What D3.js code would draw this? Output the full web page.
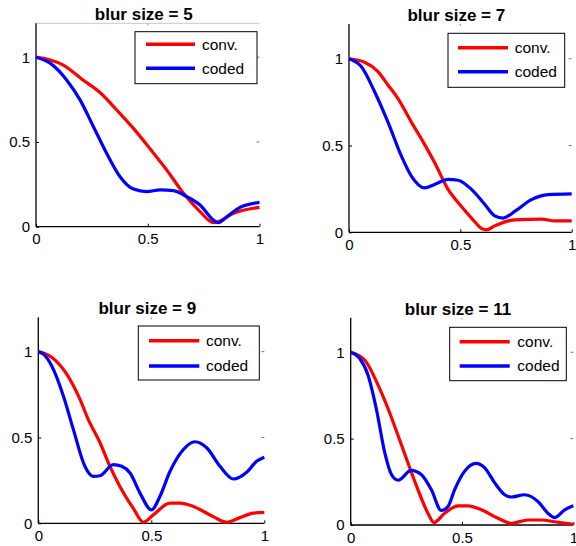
<!DOCTYPE html>
<html><head><meta charset="utf-8">
<script src="https://cdn.jsdelivr.net/npm/d3@7"></script>
<style>body{margin:0;background:#fff}svg{display:block}</style>
</head><body>
<svg id="c" width="576" height="546"></svg>
<script>
const titles = ["blur size = 5","blur size = 7","blur size = 9","blur size = 11"];
const seriesNames = ["conv.","coded"];
const xTicks = [0,0.5,1];
const yTicks = [0,0.5,1];

const conv5x = [0,0.06,0.12,0.21,0.29,0.36,0.436,0.51,0.585,0.66,0.734,0.794,0.816,0.884,1.0];
const conv5y = [1,0.985,0.955,0.866,0.787,0.69,0.58,0.46,0.335,0.197,0.089,0.024,0.03,0.079,0.114];
const coded5x = [0,0.063,0.137,0.197,0.257,0.316,0.376,0.436,0.496,0.555,0.615,0.675,0.734,0.794,0.816,0.854,0.913,1.0];
const coded5y = [1,0.965,0.866,0.748,0.59,0.433,0.295,0.222,0.207,0.217,0.213,0.177,0.128,0.039,0.024,0.059,0.114,0.144];

const conv7x = [0,0.07,0.13,0.175,0.22,0.28,0.325,0.385,0.445,0.504,0.557,0.594,0.617,0.654,0.744,0.864,0.924,1.0];
const conv7y = [1,0.98,0.926,0.849,0.77,0.635,0.538,0.40,0.247,0.15,0.072,0.023,0.014,0.037,0.072,0.076,0.066,0.066];
const coded7x = [0,0.055,0.115,0.175,0.235,0.28,0.34,0.385,0.445,0.49,0.55,0.61,0.654,0.692,0.744,0.819,0.894,1.0];
const coded7y = [1,0.955,0.81,0.635,0.44,0.324,0.256,0.276,0.305,0.30,0.247,0.16,0.095,0.082,0.12,0.188,0.217,0.221];

const conv9x = [0,0.025,0.059,0.125,0.184,0.221,0.273,0.317,0.361,0.42,0.465,0.509,0.583,0.627,0.686,0.774,0.833,0.892,0.951,1.0];
const conv9y = [1,0.99,0.967,0.87,0.723,0.605,0.469,0.332,0.215,0.088,0.006,0.049,0.117,0.117,0.098,0.039,0.006,0.033,0.059,0.064];
const coded9x = [0,0.022,0.059,0.111,0.155,0.206,0.243,0.273,0.332,0.369,0.406,0.45,0.501,0.538,0.583,0.642,0.693,0.745,0.804,0.863,0.922,0.966,1.0];
const coded9y = [1,0.986,0.918,0.742,0.547,0.332,0.273,0.277,0.342,0.332,0.293,0.176,0.078,0.156,0.303,0.43,0.475,0.44,0.332,0.258,0.297,0.361,0.385];

const conv11x = [0,0.063,0.123,0.168,0.213,0.257,0.302,0.347,0.374,0.422,0.482,0.527,0.587,0.662,0.722,0.796,0.856,0.916,1.0];
const conv11y = [1,0.955,0.81,0.673,0.517,0.36,0.205,0.068,0.014,0.068,0.111,0.111,0.088,0.039,0.01,0.029,0.029,0.019,0.004];
const coded11x = [0,0.04,0.078,0.115,0.153,0.183,0.213,0.272,0.317,0.362,0.407,0.437,0.467,0.512,0.564,0.602,0.647,0.692,0.722,0.781,0.841,0.886,0.916,0.961,1.0];
const coded11y = [1,0.965,0.867,0.673,0.419,0.292,0.259,0.316,0.292,0.205,0.084,0.107,0.205,0.312,0.357,0.331,0.244,0.175,0.162,0.175,0.136,0.068,0.043,0.088,0.111];

const panelData = [
  [[conv5x,conv5y],[coded5x,coded5y]],
  [[conv7x,conv7y],[coded7x,coded7y]],
  [[conv9x,conv9y],[coded9x,coded9y]],
  [[conv11x,conv11y],[coded11x,coded11y]]
];
const colors = ["#ff0000","#0000ff"];

const boxes = [
  {l:36,r:259.5,t:23.3,b:226.7, lg:{x:135,y:31.7,w:122,h:52,r1:44.3,r2:68.3,lx1:146,lx2:195,tx:202}},
  {l:349,r:571.7,t:24,b:232.3, lg:{x:448,y:33.3,w:116.7,h:54,r1:47.7,r2:71.7,lx1:458,lx2:508,tx:514.7}},
  {l:38.3,r:264.3,t:317.3,b:523.3, lg:{x:138.3,y:326,w:121,h:54,r1:340.7,r2:366,lx1:149,lx2:199.3,tx:206}},
  {l:350.7,r:573.3,t:317.7,b:525, lg:{x:449.7,y:327.3,w:116.6,h:53.4,r1:341.7,r2:366,lx1:459.7,lx2:509.7,tx:517.3}}
];

const svg = d3.select("#c");
const font = "Liberation Sans, Arial, Helvetica, sans-serif";

boxes.forEach((bx,i)=>{
  const x = d3.scaleLinear().domain([0,1]).range([bx.l,bx.r]);
  const y = d3.scaleLinear().domain([0,1.2]).range([bx.b,bx.t]);
  const g = svg.append("g");

  if(i===0){
    g.append("line").attr("x1",bx.l).attr("x2",bx.r).attr("y1",bx.t).attr("y2",bx.t)
      .attr("stroke","#c8c8c8").attr("stroke-width",1);
  }
  yTicks.filter(v=>v>0).forEach(v=>{
    g.append("line").attr("x1",bx.r-3).attr("x2",bx.r).attr("y1",y(v)).attr("y2",y(v))
      .attr("stroke","#777").attr("stroke-width",1);
  });
  xTicks.filter(v=>v>0&&v<1).forEach(v=>{
    g.append("line").attr("x1",x(v)).attr("x2",x(v)).attr("y1",bx.t).attr("y2",bx.t+2)
      .attr("stroke","#999").attr("stroke-width",1);
  });

  const ax = g.append("g").attr("transform",`translate(0,${bx.b})`)
    .call(d3.axisBottom(x).tickValues(xTicks).tickSize(-3).tickPadding(7).tickFormat(d3.format("")));
  const ay = g.append("g").attr("transform",`translate(${bx.l},0)`)
    .call(d3.axisLeft(y).tickValues(yTicks).tickSize(-3).tickPadding(6).tickFormat(d3.format("")));
  [ax,ay].forEach(a=>{
    a.select(".domain").attr("stroke","#000").attr("stroke-width",1.3);
    a.selectAll(".tick line").attr("stroke","#000");
    a.selectAll("text").attr("font-family",font).attr("font-size",15).attr("fill","#000");
  });
  ax.select(".domain").attr("d",`M${bx.l},0H${bx.r}`);
  ay.select(".domain").attr("d",`M0,${bx.b}V${bx.t}`);

  const line = d3.line().x(d=>x(d[0])).y(d=>y(d[1])).curve(d3.curveMonotoneX);
  panelData[i].forEach((s,k)=>{
    const pts = s[0].map((v,j)=>[v,s[1][j]]);
    g.append("path").datum(pts).attr("d",line).attr("fill","none")
      .attr("stroke",colors[k]).attr("stroke-width",3.2).attr("stroke-linejoin","round");
  });

  g.append("text").attr("x",(bx.l+bx.r)/2-4).attr("y",bx.t-3)
    .attr("text-anchor","middle").attr("font-family",font).attr("font-weight","bold")
    .attr("font-size",17).text(titles[i]);

  const lg = bx.lg;
  g.append("rect").attr("x",lg.x).attr("y",lg.y).attr("width",lg.w).attr("height",lg.h)
    .attr("fill","#fff").attr("stroke","#000").attr("stroke-width",1);
  [lg.r1,lg.r2].forEach((yy,k)=>{
    g.append("line").attr("x1",lg.lx1).attr("x2",lg.lx2).attr("y1",yy).attr("y2",yy)
      .attr("stroke",colors[k]).attr("stroke-width",3.5);
    g.append("text").attr("x",lg.tx).attr("y",yy).attr("dy","0.35em")
      .attr("font-family",font).attr("font-size",15.5).text(seriesNames[k]);
  });
});
</script>
</body></html>
